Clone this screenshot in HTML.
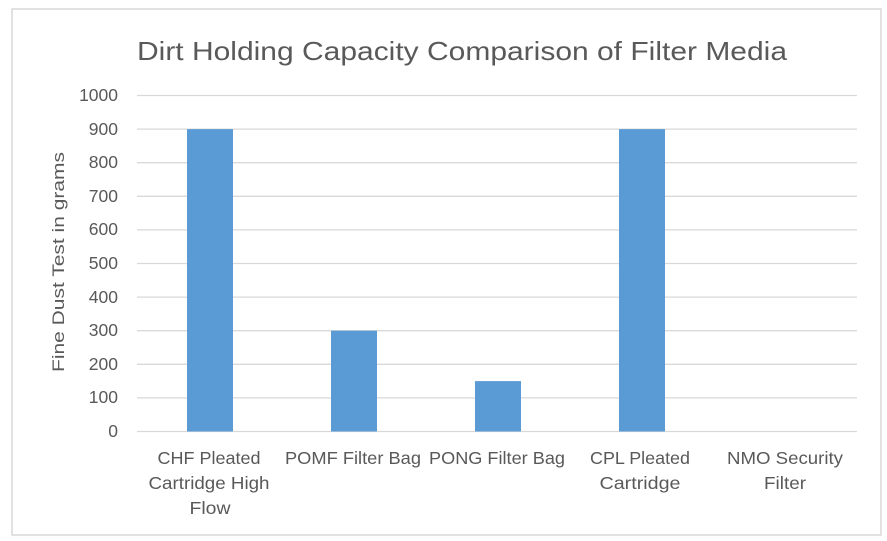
<!DOCTYPE html>
<html><head><meta charset="utf-8"><style>
html,body{margin:0;padding:0;background:#fff;}
svg{display:block;font-family:"Liberation Sans",sans-serif;}
</style></head><body>
<svg width="887" height="541" viewBox="0 0 887 541" xmlns="http://www.w3.org/2000/svg">
<rect x="12" y="9" width="869" height="526" fill="#fff" stroke="#d9d9d9" stroke-width="1.5"/>
<text x="462" y="60" font-size="26" fill="#595959" text-anchor="middle" textLength="650" lengthAdjust="spacingAndGlyphs">Dirt Holding Capacity Comparison of Filter Media</text>
<g stroke="#d9d9d9" stroke-width="1.3">
<line x1="137" x2="857" y1="95.5" y2="95.5"/>
<line x1="137" x2="857" y1="129.1" y2="129.1"/>
<line x1="137" x2="857" y1="162.7" y2="162.7"/>
<line x1="137" x2="857" y1="196.3" y2="196.3"/>
<line x1="137" x2="857" y1="229.9" y2="229.9"/>
<line x1="137" x2="857" y1="263.5" y2="263.5"/>
<line x1="137" x2="857" y1="297.1" y2="297.1"/>
<line x1="137" x2="857" y1="330.7" y2="330.7"/>
<line x1="137" x2="857" y1="364.3" y2="364.3"/>
<line x1="137" x2="857" y1="397.9" y2="397.9"/>
<line x1="137" x2="857" y1="431.5" y2="431.5"/>
</g>
<g fill="#5b9bd5">
<rect x="187" y="129.1" width="46" height="302.4"/>
<rect x="331" y="330.7" width="46" height="100.8"/>
<rect x="475" y="381.1" width="46" height="50.4"/>
<rect x="619" y="129.1" width="46" height="302.4"/>
</g>
<g font-size="17.5" fill="#595959" text-anchor="end">
<text x="118" y="101">1000</text>
<text x="118" y="135">900</text>
<text x="118" y="168">800</text>
<text x="118" y="202">700</text>
<text x="118" y="235">600</text>
<text x="118" y="269">500</text>
<text x="118" y="303">400</text>
<text x="118" y="336">300</text>
<text x="118" y="370">200</text>
<text x="118" y="403">100</text>
<text x="118" y="437">0</text>
</g>
<text transform="translate(64,262) rotate(-90)" font-size="17" fill="#595959" text-anchor="middle" textLength="220" lengthAdjust="spacingAndGlyphs">Fine Dust Test in grams</text>
<g font-size="17.5" fill="#595959" text-anchor="middle" lengthAdjust="spacingAndGlyphs">
<text x="209" y="464" textLength="103" lengthAdjust="spacingAndGlyphs">CHF Pleated</text>
<text x="209" y="489" textLength="121" lengthAdjust="spacingAndGlyphs">Cartridge High</text>
<text x="210" y="514" textLength="41" lengthAdjust="spacingAndGlyphs">Flow</text>
<text x="353" y="464" textLength="136" lengthAdjust="spacingAndGlyphs">POMF Filter Bag</text>
<text x="497" y="464" textLength="136" lengthAdjust="spacingAndGlyphs">PONG Filter Bag</text>
<text x="640" y="464" textLength="100" lengthAdjust="spacingAndGlyphs">CPL Pleated</text>
<text x="640" y="489" textLength="81" lengthAdjust="spacingAndGlyphs">Cartridge</text>
<text x="785" y="464" textLength="116" lengthAdjust="spacingAndGlyphs">NMO Security</text>
<text x="785" y="489" textLength="42" lengthAdjust="spacingAndGlyphs">Filter</text>
</g>
</svg>
</body></html>
